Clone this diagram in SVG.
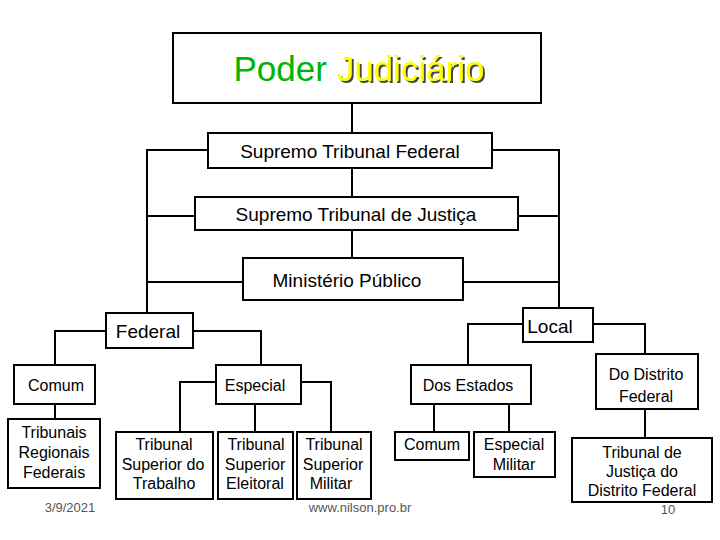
<svg xmlns="http://www.w3.org/2000/svg" width="720" height="540" viewBox="0 0 720 540">
<defs><filter id="sh" x="-5%" y="-20%" width="115%" height="150%"><feDropShadow dx="2" dy="2" stdDeviation="0.3" flood-color="#444"/></filter></defs>
<style>
rect{fill:#fff;stroke:#000;stroke-width:2}
#c path{fill:none;stroke:#000;stroke-width:2}
text{font-family:"Liberation Sans",Arial,sans-serif;text-anchor:middle;fill:#000}
.m{font-size:19px}
.s{font-size:16px}
.f{font-size:13px;fill:#555}
</style>
<rect width="720" height="540" style="stroke:none"/>
<g id="c">
<path d="M352 103V133M352 168V197M352 230V258"/>
<path d="M208 150H147V313M195 216H147M243 282H147"/>
<path d="M492 150H559V308M518 216H559M463 282H559"/>
<path d="M106 331H55V365M193 331H261V365"/>
<path d="M523 324H468V365M593 324H645V354"/>
<path d="M55 404V419"/>
<path d="M216 382H180V432M301 382H331V432M255 404V432"/>
<path d="M434 404V432M509 404V432"/>
<path d="M645 409V438"/>
</g>
<g id="title"><rect x="173" y="33" width="368" height="70"/>
<text x="359" y="81" style="font-size:35px"><tspan fill="#00b400">Poder </tspan><tspan fill="#ffff00" filter="url(#sh)">Judiciário</tspan></text></g>
<g id="stf"><rect x="208" y="133" width="284" height="35"/><text class="m" x="350" y="158">Supremo Tribunal Federal</text></g>
<g id="stj"><rect x="195" y="197" width="323" height="33"/><text class="m" x="356" y="221">Supremo Tribunal de Justiça</text></g>
<g id="mp"><rect x="243" y="258" width="220" height="42"/><text class="m" x="347" y="287">Ministério Público</text></g>
<g id="federal"><rect x="106" y="313" width="87" height="35"/><text class="m" x="148" y="338">Federal</text></g>
<g id="local"><rect x="523" y="308" width="70" height="34"/><text class="m" x="550" y="333">Local</text></g>
<g id="comum"><rect x="14" y="365" width="81" height="39"/><text class="s" x="56" y="391">Comum</text></g>
<g id="especial"><rect x="216" y="365" width="85" height="39"/><text class="s" x="255" y="391">Especial</text></g>
<g id="estados"><rect x="411" y="365" width="120" height="39"/><text class="s" x="468" y="391">Dos Estados</text></g>
<g id="df"><rect x="596" y="354" width="102" height="55"/><text class="s" x="646" y="380">Do Distrito</text><text class="s" x="646" y="402">Federal</text></g>
<g id="trf"><rect x="8" y="419" width="92" height="69"/><text class="s" x="54" y="438">Tribunais</text><text class="s" x="54" y="458">Regionais</text><text class="s" x="54" y="478">Federais</text></g>
<g id="tst"><rect x="116" y="432" width="97" height="67"/><text class="s" x="164" y="450">Tribunal</text><text class="s" x="163" y="470">Superior do</text><text class="s" x="164" y="489">Trabalho</text></g>
<g id="tse"><rect x="218" y="432" width="75" height="67"/><text class="s" x="256" y="450">Tribunal</text><text class="s" x="255" y="470">Superior</text><text class="s" x="255" y="489">Eleitoral</text></g>
<g id="tsm"><rect x="297" y="432" width="74" height="67"/><text class="s" x="334" y="450">Tribunal</text><text class="s" x="333" y="470">Superior</text><text class="s" x="331" y="489">Militar</text></g>
<g id="comum2"><rect x="395" y="432" width="74" height="28"/><text class="s" x="432" y="450">Comum</text></g>
<g id="em"><rect x="474" y="432" width="81" height="45"/><text class="s" x="514" y="450">Especial</text><text class="s" x="514" y="470">Militar</text></g>
<g id="footer"><text class="f" x="70" y="512">3/9/2021</text><text class="f" x="360" y="512">www.nilson.pro.br</text><text class="f" x="668" y="514">10</text></g>
<g id="tjdf"><rect x="572" y="438" width="140" height="64" style="fill:none"/><text class="s" x="642" y="458">Tribunal de</text><text class="s" x="642" y="477">Justiça do</text><text class="s" x="642" y="496">Distrito Federal</text></g>
</svg>
